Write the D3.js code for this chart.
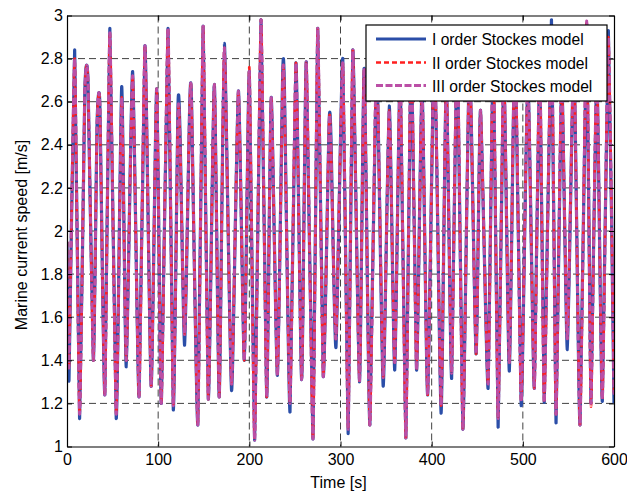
<!DOCTYPE html>
<html>
<head>
<meta charset="utf-8">
<script src="https://cdn.jsdelivr.net/npm/d3@7"></script>
<style>
  html, body { margin: 0; padding: 0; background: #fff; }
  svg { display: block; }
  text { font-family: "Liberation Sans", Arial, Helvetica, sans-serif; fill: #000; }
</style>
</head>
<body>
<svg id="chart" width="627" height="494"></svg>
<script>
// ---- data ----
const timeS = [0, 2.2, 8.4, 13.8, 19.5, 23, 28.9, 33, 36, 41.5, 47, 54, 60, 65, 72, 79, 85.5, 92.3, 98.4, 103.5,
  110.8, 116.6, 121.8, 124, 129, 134.5, 136.5, 143.5, 149.3, 155, 161.6, 167, 172.6, 180.5, 188, 194.5,
  200, 205.8, 212.8, 219, 224, 230.8, 236.6, 238.5, 244.6, 251.1, 257.4, 262.5, 269.8, 275, 281.1, 287.5, 289.5, 295,
  302.5, 308.4, 313.5, 320.8, 326, 332.2, 339.5, 346.8, 353.5, 359.5, 365.5, 371.7, 377.5, 383.4, 389.5, 395.6,
  403, 410.3, 416, 421.9, 428, 434.2, 441.5, 448.7, 453.6, 461.9, 467.5, 472.9, 479, 485.2, 491.5, 498.2,
  505.5, 512.6, 518.5, 523.5, 531.4, 536.4, 542.5, 548.8, 556, 562.7, 570, 574.7, 581, 587.2, 593.8, 600];

const stokesI = [1.95, 1.31, 2.84, 1.13, 2.64, 2.70, 1.40, 2.50, 2.59, 1.24, 2.94, 1.13, 2.67, 1.37, 2.74, 1.23, 2.86, 1.28, 2.66, 1.20,
  2.94, 1.17, 2.59, 2.45, 1.47, 2.56, 2.62, 1.10, 2.95, 1.22, 2.68, 1.23, 2.87, 1.26, 2.65, 1.40,
  2.74, 1.03, 2.98, 1.23, 2.62, 1.33, 2.73, 2.66, 1.16, 2.78, 1.31, 2.785, 1.035, 2.94, 1.325, 2.50, 2.44, 1.46,
  2.80, 1.06, 2.84, 1.30, 2.755, 1.10, 2.80, 1.28, 2.58, 1.355, 2.72, 1.04, 2.90, 1.355, 2.66, 1.24,
  2.85, 1.155, 2.70, 1.316, 2.92, 1.08, 2.78, 1.43, 2.56, 1.27, 2.88, 1.09, 2.76, 1.35, 2.90, 1.19,
  2.70, 1.27, 2.82, 1.205, 2.98, 1.11, 2.72, 1.45, 2.80, 1.10, 2.96, 1.20, 2.76, 1.21, 2.93, 1.20];

const stokesII = [1.95, 1.37, 2.80, 1.15, 2.64, 2.70, 1.40, 2.50, 2.59, 1.24, 2.92, 1.15, 2.62, 1.40, 2.72, 1.23, 2.86, 1.28, 2.66, 1.20,
  2.94, 1.19, 2.55, 2.42, 1.52, 2.56, 2.62, 1.10, 2.95, 1.22, 2.68, 1.23, 2.85, 1.29, 2.65, 1.40,
  2.76, 1.03, 2.98, 1.23, 2.62, 1.33, 2.71, 2.62, 1.20, 2.78, 1.31, 2.785, 1.035, 2.94, 1.325, 2.50, 2.40, 1.50,
  2.78, 1.08, 2.84, 1.30, 2.755, 1.10, 2.80, 1.32, 2.56, 1.39, 2.72, 1.04, 2.90, 1.355, 2.66, 1.24,
  2.85, 1.19, 2.70, 1.34, 2.92, 1.08, 2.78, 1.43, 2.56, 1.29, 2.88, 1.13, 2.76, 1.39, 2.90, 1.21,
  2.70, 1.27, 2.82, 1.205, 2.95, 1.15, 2.72, 1.50, 2.80, 1.10, 2.975, 1.185, 2.76, 1.22, 2.90, 1.24];

const stokesIII = [1.95, 1.37, 2.80, 1.15, 2.64, 2.70, 1.40, 2.50, 2.59, 1.24, 2.92, 1.15, 2.62, 1.40, 2.72, 1.23, 2.86, 1.28, 2.66, 1.20,
  2.94, 1.19, 2.55, 2.42, 1.52, 2.56, 2.62, 1.10, 2.95, 1.22, 2.68, 1.23, 2.85, 1.29, 2.65, 1.40,
  2.74, 1.03, 2.98, 1.23, 2.62, 1.33, 2.71, 2.62, 1.20, 2.78, 1.31, 2.785, 1.035, 2.94, 1.325, 2.50, 2.40, 1.50,
  2.78, 1.08, 2.84, 1.30, 2.755, 1.10, 2.80, 1.32, 2.56, 1.39, 2.72, 1.04, 2.90, 1.355, 2.66, 1.24,
  2.85, 1.19, 2.70, 1.34, 2.92, 1.08, 2.78, 1.43, 2.56, 1.29, 2.88, 1.13, 2.76, 1.39, 2.90, 1.21,
  2.70, 1.27, 2.82, 1.205, 2.95, 1.15, 2.72, 1.50, 2.80, 1.10, 2.975, 1.20, 2.76, 1.22, 2.90, 1.24];

const seriesNames = ["I order Stockes model", "II order Stockes model", "III order Stockes model"];
const xTicks = [0, 100, 200, 300, 400, 500, 600];
const yTicks = [1, 1.2, 1.4, 1.6, 1.8, 2, 2.2, 2.4, 2.6, 2.8, 3];
const xLabel = "Time [s]";
const yLabel = "Marine current speed [m/s]";

// ---- layout ----
const svg = d3.select("#chart");
const L = 67, R = 614, T = 15.5, B = 446.5;
const x = d3.scaleLinear().domain([0, 600]).range([L, R]);
const y = d3.scaleLinear().domain([1, 3]).range([B, T]);

const styles = [
  { color: "#2b4ea8", width: 3.2, dash: null },
  { color: "#ff1f1f", width: 2.6, dash: "5,3" },
  { color: "#bb4fa6", width: 2.9, dash: "7,2.5" }
];
const allSeries = [stokesI, stokesII, stokesIII];

// grid
const grid = svg.append("g").attr("stroke", "#222").attr("stroke-width", 1).attr("stroke-dasharray", "7,4").attr("opacity", 0.85);
grid.selectAll(".gx").data(xTicks.slice(1, -1)).join("line")
  .attr("x1", d => x(d)).attr("x2", d => x(d)).attr("y1", T).attr("y2", B);
grid.selectAll(".gy").data(yTicks.slice(1, -1)).join("line")
  .attr("x1", L).attr("x2", R).attr("y1", d => y(d)).attr("y2", d => y(d));

// lines
svg.append("clipPath").attr("id", "clip").append("rect")
  .attr("x", L).attr("y", T).attr("width", R - L).attr("height", B - T);
const lineGen = d3.line().x((d, i) => x(timeS[i])).y(d => y(d)).curve(d3.curveCardinal.tension(0.45));
const plot = svg.append("g").attr("clip-path", "url(#clip)");
allSeries.forEach((s, k) => {
  plot.append("path").datum(s)
    .attr("fill", "none")
    .attr("stroke", styles[k].color)
    .attr("stroke-width", styles[k].width)
    .attr("stroke-linejoin", "round")
    .attr("stroke-dasharray", styles[k].dash)
    .attr("d", lineGen);
});

// axes (MATLAB style: inside ticks, box)
const tickLen = 5;
const axB = svg.append("g").attr("transform", `translate(0,${B})`)
  .call(d3.axisBottom(x).tickValues(xTicks).tickSizeInner(-tickLen).tickSizeOuter(0).tickPadding(8).tickFormat(d3.format("d")));
const axT = svg.append("g").attr("transform", `translate(0,${T})`)
  .call(d3.axisTop(x).tickValues(xTicks).tickSizeInner(-tickLen).tickSizeOuter(0).tickFormat(""));
const fmtY = d => String(+d.toFixed(1));
const axL = svg.append("g").attr("transform", `translate(${L},0)`)
  .call(d3.axisLeft(y).tickValues(yTicks).tickSizeInner(-tickLen).tickSizeOuter(0).tickPadding(4).tickFormat(fmtY));
const axR = svg.append("g").attr("transform", `translate(${R},0)`)
  .call(d3.axisRight(y).tickValues(yTicks).tickSizeInner(-tickLen).tickSizeOuter(0).tickFormat(""));
[axB, axT, axL, axR].forEach(a => {
  a.selectAll("path").attr("stroke", "#000").attr("stroke-width", 1.2);
  a.selectAll("line").attr("stroke", "#000").attr("stroke-width", 1);
  a.selectAll("text").attr("font-size", 16).attr("font-family", "'Liberation Sans', Arial, sans-serif").attr("fill", "#000");
});
axB.selectAll("text").attr("dy", "0.71em").attr("y", 7);

// axis labels
svg.append("text").attr("x", (L + R) / 2 - 2).attr("y", 488).attr("text-anchor", "middle")
  .attr("font-size", 16).text(xLabel);
svg.append("text").attr("transform", `translate(27,235) rotate(-90)`).attr("text-anchor", "middle")
  .attr("font-size", 16).text(yLabel);

// legend
const lg = svg.append("g");
lg.append("rect").attr("x", 366).attr("y", 25).attr("width", 241).attr("height", 76)
  .attr("fill", "#fff").attr("stroke", "#000").attr("stroke-width", 1.2);
const legY = [39, 62.5, 85.5];
seriesNames.forEach((name, k) => {
  lg.append("line").attr("x1", 376).attr("x2", 426).attr("y1", legY[k]).attr("y2", legY[k])
    .attr("stroke", styles[k].color).attr("stroke-width", styles[k].width).attr("stroke-dasharray", styles[k].dash);
  lg.append("text").attr("x", 432).attr("y", legY[k] + 6).attr("font-size", 15.6).text(name);
});
</script>
</body>
</html>
